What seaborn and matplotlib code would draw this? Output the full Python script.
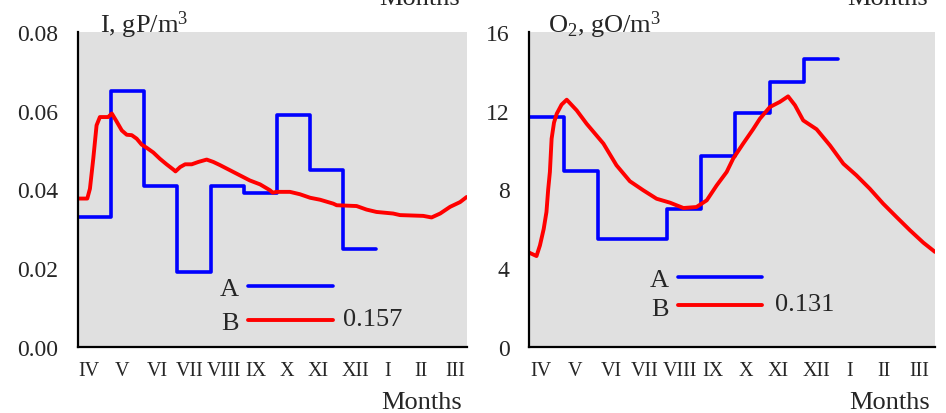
import matplotlib
matplotlib.use("Agg")
import matplotlib.pyplot as plt
from matplotlib.ticker import MultipleLocator, FixedLocator
import seaborn as sns

# miesiace od kwietnia do marca
months = ["IV", "V", "VI", "VII", "VIII", "IX", "X", "XI", "XII", "I", "II", "III"]

# A - wartosci miesieczne (schodki), IV..XII
a_edges = [0, 1, 2, 3, 4, 5, 6, 7, 8, 9]
p_a = [0.033, 0.065, 0.041, 0.019, 0.041, 0.039, 0.059, 0.045, 0.025]
o2_a = [11.67, 8.92, 5.5, 5.5, 6.99, 9.69, 11.87, 13.46, 14.61]

# B - przebieg ciagly (fosfor)
p_b_x = [0.00, 0.28, 0.36, 0.46, 0.56, 0.66, 0.91, 1.02, 1.17, 1.32, 1.47, 1.62, 1.77,
         1.92, 2.07, 2.27, 2.47, 2.67, 2.87, 2.94, 3.08, 3.23, 3.43, 3.63, 3.88, 4.08,
         4.28, 4.58, 4.88, 5.18, 5.49, 5.79, 5.87, 5.99, 6.39, 6.69, 7.00, 7.30, 7.70,
         7.80, 8.40, 8.70, 9.00, 9.50, 9.71, 10.41, 10.66, 10.92, 11.22, 11.52, 11.72]
p_b = [0.0377, 0.0377, 0.0402, 0.0478, 0.0563, 0.0584, 0.0584, 0.0593, 0.0572, 0.0550,
       0.0539, 0.0538, 0.0529, 0.0514, 0.0506, 0.0494, 0.0478, 0.0464, 0.0451, 0.0446,
       0.0457, 0.0464, 0.0464, 0.0470, 0.0476, 0.0470, 0.0462, 0.0449, 0.0436, 0.0423,
       0.0413, 0.0398, 0.0392, 0.0394, 0.0394, 0.0388, 0.0379, 0.0374, 0.0364, 0.0360,
       0.0358, 0.0349, 0.0343, 0.0339, 0.0335, 0.0333, 0.0329, 0.0339, 0.0356, 0.0368,
       0.0381]

# B - przebieg ciagly (tlen)
o2_b_x = [0.00, 0.21, 0.31, 0.42, 0.50, 0.55, 0.60, 0.65, 0.72, 0.80, 0.94, 1.09, 1.38,
          1.67, 2.16, 2.54, 2.93, 3.32, 3.71, 4.10, 4.49, 4.87, 5.17, 5.46, 5.75, 5.94,
          6.23, 6.52, 6.72, 7.01, 7.30, 7.54, 7.74, 7.98, 8.37, 8.76, 9.15, 9.53, 9.92,
          10.31, 10.70, 11.09, 11.48, 11.82]
o2_b = [4.79, 4.62, 5.16, 6.0, 6.86, 8.0, 8.89, 10.58, 11.4, 11.85, 12.31, 12.56, 12.02,
        11.34, 10.33, 9.23, 8.42, 7.96, 7.53, 7.33, 7.06, 7.11, 7.45, 8.21, 8.89, 9.57,
        10.33, 11.06, 11.60, 12.19, 12.45, 12.73, 12.28, 11.51, 11.06, 10.24, 9.31, 8.72,
        8.04, 7.28, 6.60, 5.93, 5.30, 4.83]

label_pos = [0.33, 1.33, 2.38, 3.37, 4.39, 5.35, 6.30, 7.25, 8.36, 9.33, 10.33, 11.37]

sns.set_style("white")
plt.rcParams["font.family"] = ["Liberation Serif", "DejaVu Serif"]
plt.rcParams["mathtext.fontset"] = "custom"
plt.rcParams["mathtext.rm"] = "Liberation Serif"
plt.rcParams["mathtext.default"] = "regular"

fig = plt.figure(figsize=(9.46, 4.14), dpi=100)
ax1 = fig.add_axes([78 / 946, 66 / 414, 388.7 / 946, 315 / 414])
ax2 = fig.add_axes([529.3 / 946, 66 / 414, 405.7 / 946, 315 / 414])


def panel(ax, a_vals, b_x, b_y, xmax, ymax, ystep, fmt, ylab, score,
          leg_anchor, leg_space, score_xy):
    ax.set_facecolor("#e0e0e0")
    sns.lineplot(x=a_edges, y=a_vals + [a_vals[-1]], drawstyle="steps-post",
                 color="#0000ff", lw=2.6, label="A", ax=ax)
    sns.lineplot(x=b_x, y=b_y, color="#ff0000", lw=2.8, label="B", ax=ax)
    ax.set_xlim(0, xmax)
    ax.set_ylim(0, ymax)
    ax.set_xlabel("")
    ax.set_ylabel("")
    for s in ["top", "right"]:
        ax.spines[s].set_visible(False)
    for s in ["left", "bottom"]:
        ax.spines[s].set_linewidth(1.6)
        ax.spines[s].set_color("black")
    ax.xaxis.set_major_locator(FixedLocator(range(0, 12)))
    ax.xaxis.set_minor_locator(FixedLocator([i + 0.5 for i in range(12)]))
    ax.xaxis.set_ticklabels([])
    ax.yaxis.set_major_locator(MultipleLocator(ystep))
    ax.yaxis.set_minor_locator(MultipleLocator(ystep / 2))
    ax.yaxis.set_major_formatter(fmt)
    ax.tick_params(which="both", direction="in", width=1.4, color="black")
    ax.tick_params(axis="y", which="both", length=8, labelsize=17, pad=14)
    ax.tick_params(axis="x", which="major", length=8)
    ax.tick_params(axis="x", which="minor", length=5.5)
    for m, xp in zip(months, label_pos):
        ax.text(xp, -0.045, m, transform=ax.get_xaxis_transform(),
                ha="center", va="top", fontsize=14.5)
    ax.text(ylab[1], 1.0, ylab[0], transform=ax.transAxes, ha="left",
            va="baseline", fontsize=19)
    h, _ = ax.get_legend_handles_labels()
    ax.legend(handles=h, labels=["A", "B"], markerfirst=False, frameon=False,
              loc="upper left", bbox_to_anchor=leg_anchor, borderpad=0,
              borderaxespad=0, handlelength=3.2, handletextpad=0.35,
              labelspacing=leg_space, fontsize=19)
    ax.text(score_xy[0], score_xy[1], score, transform=ax.transAxes,
            ha="left", va="center", fontsize=19)


panel(ax1, p_a, p_b_x, p_b, 11.72, 0.08, 0.02, "{x:.2f}",
      (r"I, gP/m$^3$", 0.057), "0.157", (0.365, 0.223), 0.4, (0.683, 0.089))
panel(ax2, o2_a, o2_b_x, o2_b, 11.82, 16, 4, "{x:.0f}",
      (r"O$_2$, gO/m$^3$", 0.046), "0.131", (0.297, 0.251), 0.18, (0.606, 0.137))

# podpisy osi x (u gory ucinek z wykresu powyzej, jak w oryginale)
for xr in [461.7 / 946, 930 / 946]:
    fig.text(xr, 0.0, "Months", ha="right", va="bottom", fontsize=19)
for xr in [460 / 946, 928 / 946]:
    fig.text(xr, 0.988, "Months", ha="right", va="baseline", fontsize=19)

fig.savefig("out.png", dpi=100)
